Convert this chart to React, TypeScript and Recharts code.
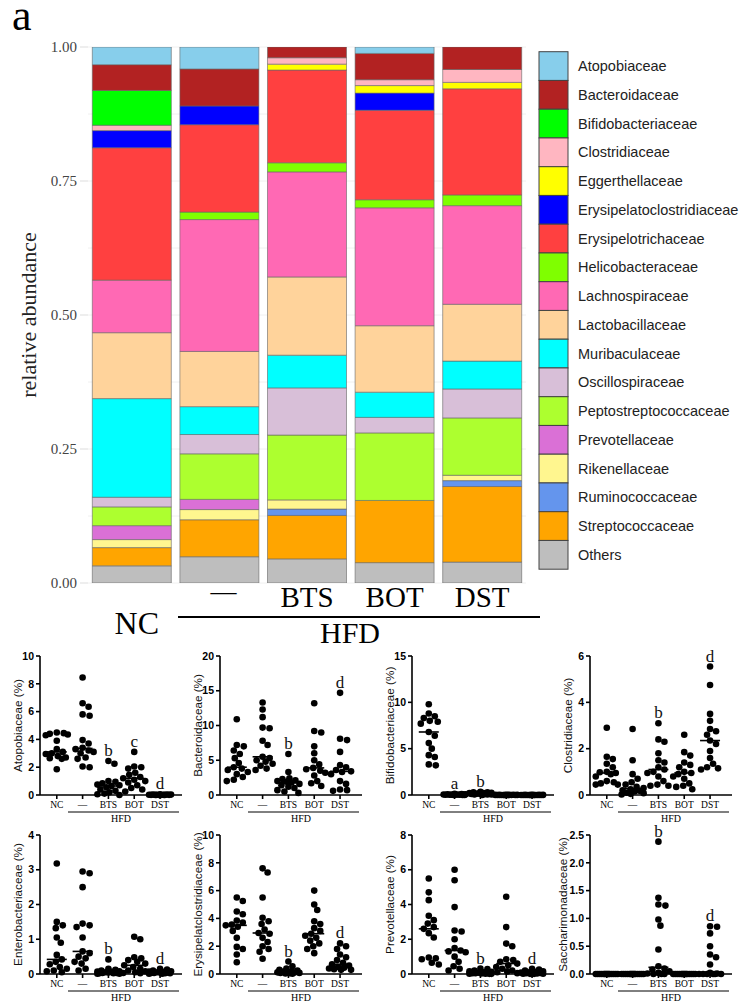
import React from "react";
import { BarChart, Bar, XAxis, YAxis, CartesianGrid, ScatterChart, Scatter, ReferenceDot } from "recharts";

const SERIF = "'Liberation Serif', 'Times New Roman', serif";
const SANS = "'Liberation Sans', Arial, sans-serif";

const groups = ["NC", "—", "BTS", "BOT", "DST"];

// relative abundance per family: NC, HFD, HFD+BTS, HFD+BOT, HFD+DST
const atopobiaceae = [0.033, 0.041, 0, 0.012, 0];
const bacteroidaceae = [0.048, 0.069, 0.02, 0.049, 0.042];
const bifidobacteriaceae = [0.065, 0, 0, 0, 0];
const clostridiaceae = [0.01, 0, 0.012, 0.011, 0.024];
const eggerthellaceae = [0, 0, 0.011, 0.014, 0.012];
const erysipelatoclostridiaceae = [0.032, 0.035, 0, 0.032, 0];
const erysipelotrichaceae = [0.247, 0.163, 0.173, 0.167, 0.198];
const helicobacteraceae = [0, 0.014, 0.017, 0.015, 0.02];
const lachnospiraceae = [0.098, 0.246, 0.196, 0.22, 0.184];
const lactobacillaceae = [0.123, 0.103, 0.146, 0.124, 0.106];
const muribaculaceae = [0.184, 0.052, 0.061, 0.047, 0.052];
const oscillospiraceae = [0.018, 0.036, 0.088, 0.029, 0.054];
const peptostreptococcaceae = [0.035, 0.085, 0.121, 0.126, 0.107];
const prevotellaceae = [0.026, 0.019, 0, 0, 0];
const rikenellaceae = [0.015, 0.019, 0.017, 0, 0.01];
const ruminococcaceae = [0, 0, 0.012, 0, 0.011];
const streptococcaceae = [0.034, 0.069, 0.081, 0.116, 0.141];
const others = [0.032, 0.049, 0.045, 0.038, 0.039];

const families = [
  { name: "Atopobiaceae", color: "#87CEEB", values: atopobiaceae },
  { name: "Bacteroidaceae", color: "#B22222", values: bacteroidaceae },
  { name: "Bifidobacteriaceae", color: "#00FF00", values: bifidobacteriaceae },
  { name: "Clostridiaceae", color: "#FFB6C1", values: clostridiaceae },
  { name: "Eggerthellaceae", color: "#FFFF00", values: eggerthellaceae },
  { name: "Erysipelatoclostridiaceae", color: "#0000FF", values: erysipelatoclostridiaceae },
  { name: "Erysipelotrichaceae", color: "#FF4040", values: erysipelotrichaceae },
  { name: "Helicobacteraceae", color: "#7FFF00", values: helicobacteraceae },
  { name: "Lachnospiraceae", color: "#FF69B4", values: lachnospiraceae },
  { name: "Lactobacillaceae", color: "#FFD39B", values: lactobacillaceae },
  { name: "Muribaculaceae", color: "#00FFFF", values: muribaculaceae },
  { name: "Oscillospiraceae", color: "#D8BFD8", values: oscillospiraceae },
  { name: "Peptostreptococcaceae", color: "#ADFF2F", values: peptostreptococcaceae },
  { name: "Prevotellaceae", color: "#DA70D6", values: prevotellaceae },
  { name: "Rikenellaceae", color: "#FFF68F", values: rikenellaceae },
  { name: "Ruminococcaceae", color: "#6495ED", values: ruminococcaceae },
  { name: "Streptococcaceae", color: "#FFA500", values: streptococcaceae },
  { name: "Others", color: "#BEBEBE", values: others },
];

const abundanceTicks = [0, 0.25, 0.5, 0.75, 1];

// per-mouse abundance (%), one list per group
const atopobiaceaePct = [
  [4.5, 4.45, 4.4, 4.35, 4.3, 3.9, 3.3, 3.1, 3.0, 2.95, 2.8, 2.7, 2.65, 2.6, 1.85],
  [8.45, 6.6, 6.35, 5.8, 5.7, 3.95, 3.7, 3.4, 3.3, 3.2, 3.1, 3.0, 2.7, 2.6, 2.05, 2.0],
  [2.45, 2.25, 1.0, 0.95, 0.85, 0.75, 0.7, 0.65, 0.55, 0.4, 0.3, 0.2, 0.1, 0.05, 0.0],
  [3.1, 2.05, 2.0, 1.9, 1.6, 1.45, 1.3, 1.2, 1.1, 1.0, 0.9, 0.7, 0.5, 0.4, 0.25],
  [0.05, 0.04, 0.03, 0.03, 0.02, 0.02, 0.02, 0.01, 0.01, 0.01, 0.01, 0, 0, 0, 0],
];
const bacteroidaceaePct = [
  [10.9, 7.2, 7.0, 6.4, 5.9, 5.3, 4.6, 4.0, 3.8, 3.6, 3.3, 3.0, 2.6, 2.2, 2.0],
  [13.3, 12.3, 11.2, 9.7, 9.6, 7.8, 7.2, 5.5, 5.3, 5.0, 4.8, 4.5, 4.2, 3.8, 3.6],
  [5.9, 3.3, 2.4, 2.3, 2.1, 2.0, 1.9, 1.8, 1.6, 1.4, 1.2, 1.0, 0.7, 0.5, 0.3],
  [13.2, 9.2, 9.0, 7.0, 6.0, 5.0, 4.4, 3.9, 3.7, 3.5, 3.2, 2.8, 2.0, 1.7, 1.3],
  [14.7, 8.1, 7.9, 6.2, 4.3, 4.0, 3.6, 3.4, 3.3, 3.0, 2.0, 1.6, 0.8, 0.7, 0.6],
];
const bifidobacteriaceaePct = [
  [9.8, 8.8, 8.5, 8.3, 8.0, 7.9, 7.7, 6.8, 6.4, 5.6, 5.0, 4.3, 4.1, 3.3, 3.2],
  [0.12, 0.1, 0.08, 0.07, 0.06, 0.05, 0.04, 0.04, 0.03, 0.03, 0.02, 0.02, 0.01, 0.01, 0.0],
  [0.35, 0.3, 0.3, 0.25, 0.2, 0.2, 0.15, 0.15, 0.1, 0.1, 0.1, 0.05, 0.05, 0.05, 0.0],
  [0.02, 0.02, 0.01, 0.01, 0.01, 0.01, 0, 0, 0, 0, 0, 0, 0, 0, 0],
  [0.02, 0.01, 0.01, 0.01, 0, 0, 0, 0, 0, 0, 0, 0, 0, 0, 0],
];
const clostridiaceaePct = [
  [2.9, 1.65, 1.55, 1.35, 1.2, 1.0, 0.98, 0.95, 0.9, 0.8, 0.6, 0.55, 0.5, 0.45, 0.45],
  [2.85, 1.5, 0.9, 0.7, 0.55, 0.45, 0.35, 0.3, 0.25, 0.2, 0.18, 0.15, 0.1, 0.08, 0.05, 0.02],
  [3.1, 2.4, 2.3, 1.8, 1.5, 1.4, 1.2, 1.1, 1.0, 0.95, 0.8, 0.6, 0.45, 0.4, 0.4],
  [2.6, 1.85, 1.7, 1.4, 1.3, 1.2, 1.0, 0.95, 0.9, 0.8, 0.7, 0.5, 0.4, 0.35, 0.25],
  [5.55, 4.75, 3.5, 3.2, 2.85, 2.75, 2.6, 2.35, 2.2, 1.9, 1.6, 1.35, 1.2, 1.15, 1.1],
];
const enterobacteriaceaePct = [
  [3.18, 1.5, 1.4, 1.32, 1.05, 0.9, 0.55, 0.42, 0.35, 0.28, 0.2, 0.15, 0.1, 0.08, 0.05],
  [2.95, 2.9, 2.5, 1.45, 1.4, 1.35, 1.05, 0.65, 0.6, 0.5, 0.45, 0.35, 0.3, 0.15, 0.1],
  [0.42, 0.15, 0.12, 0.1, 0.08, 0.07, 0.06, 0.05, 0.04, 0.03, 0.03, 0.02, 0.02, 0.01, 0.01],
  [1.07, 1.0, 0.48, 0.45, 0.4, 0.35, 0.3, 0.25, 0.2, 0.15, 0.1, 0.08, 0.05, 0.03, 0.02],
  [0.15, 0.13, 0.1, 0.08, 0.07, 0.06, 0.05, 0.04, 0.04, 0.03, 0.03, 0.02, 0.02, 0.01, 0.01],
];
const erysipelatoclostridiaceaePct = [
  [5.5, 5.25, 4.5, 4.3, 3.85, 3.7, 3.55, 3.5, 3.4, 3.1, 2.6, 1.95, 1.8, 1.4, 0.85],
  [7.6, 7.3, 5.5, 4.05, 3.8, 3.6, 3.2, 2.95, 2.9, 2.6, 2.3, 2.0, 1.8, 1.6, 1.1],
  [0.9, 0.55, 0.4, 0.3, 0.25, 0.2, 0.18, 0.15, 0.12, 0.1, 0.08, 0.07, 0.05, 0.04, 0.02],
  [6.0, 5.0, 4.6, 3.8, 3.6, 3.3, 3.1, 2.9, 2.75, 2.6, 2.4, 2.2, 2.0, 1.8, 1.5],
  [2.2, 2.0, 1.8, 1.4, 1.2, 1.0, 0.8, 0.7, 0.6, 0.5, 0.45, 0.4, 0.35, 0.3, 0.3],
];
const prevotellaceaePct = [
  [5.5, 4.7, 4.25, 3.35, 3.1, 2.9, 2.7, 2.6, 2.35, 2.1, 0.95, 0.9, 0.85, 0.65, 0.55],
  [6.0, 5.4, 3.85, 2.5, 2.45, 2.0, 1.5, 1.35, 1.3, 1.25, 1.0, 0.7, 0.45, 0.3, 0.2],
  [0.32, 0.28, 0.2, 0.15, 0.12, 0.1, 0.08, 0.06, 0.05, 0.04, 0.03, 0.02, 0.02, 0.01, 0.01],
  [4.45, 2.7, 1.75, 1.6, 0.85, 0.8, 0.7, 0.6, 0.5, 0.4, 0.3, 0.2, 0.15, 0.1, 0.05],
  [0.3, 0.25, 0.2, 0.15, 0.12, 0.1, 0.08, 0.06, 0.05, 0.04, 0.03, 0.02, 0.02, 0.01, 0.01],
];
const saccharimonadaceaePct = [
  [0, 0, 0, 0, 0, 0, 0, 0, 0, 0, 0, 0, 0, 0, 0],
  [0, 0, 0, 0, 0, 0, 0, 0, 0, 0, 0, 0, 0, 0, 0],
  [2.38, 1.37, 1.25, 1.23, 0.98, 0.87, 0.44, 0.14, 0.1, 0.08, 0.05, 0.02, 0.01, 0, 0, 0],
  [0, 0, 0, 0, 0, 0, 0, 0, 0, 0, 0, 0, 0, 0, 0],
  [0.86, 0.85, 0.73, 0.5, 0.35, 0.3, 0.17, 0.02, 0.01, 0, 0, 0, 0, 0, 0],
];

// significance letters per group
const atopobiaceaeLetters = ["", "", "b", "c", "d"];
const bacteroidaceaeLetters = ["", "", "b", "", "d"];
const bifidobacteriaceaeLetters = ["", "a", "b", "", ""];
const commonLetters = ["", "", "b", "", "d"];

type Panel = {
  title: string;
  values: number[][];
  letters: string[];
  yMax: number;
  ticks: number[];
  decimals: number;
  axisX: number;
  row: number;
};

const panels: Panel[] = [
  { title: "Atopobiaceae (%)", values: atopobiaceaePct, letters: atopobiaceaeLetters, yMax: 10, ticks: [0, 2, 4, 6, 8, 10], decimals: 0, axisX: 40, row: 0 },
  { title: "Bacteroidaceae (%)", values: bacteroidaceaePct, letters: bacteroidaceaeLetters, yMax: 20, ticks: [0, 5, 10, 15, 20], decimals: 0, axisX: 220, row: 0 },
  { title: "Bifidobacteriaceae (%)", values: bifidobacteriaceaePct, letters: bifidobacteriaceaeLetters, yMax: 15, ticks: [0, 5, 10, 15], decimals: 0, axisX: 412, row: 0 },
  { title: "Clostridiaceae (%)", values: clostridiaceaePct, letters: commonLetters, yMax: 6, ticks: [0, 2, 4, 6], decimals: 0, axisX: 590, row: 0 },
  { title: "Enterobacteriaceae (%)", values: enterobacteriaceaePct, letters: commonLetters, yMax: 4, ticks: [0, 1, 2, 3, 4], decimals: 0, axisX: 40, row: 1 },
  { title: "Erysipelatclostridiaceae (%)", values: erysipelatoclostridiaceaePct, letters: commonLetters, yMax: 10, ticks: [0, 2, 4, 6, 8, 10], decimals: 0, axisX: 220, row: 1 },
  { title: "Prevotellaceae (%)", values: prevotellaceaePct, letters: commonLetters, yMax: 8, ticks: [0, 2, 4, 6, 8], decimals: 0, axisX: 412, row: 1 },
  { title: "Saccharimonadaceae (%)", values: saccharimonadaceaePct, letters: commonLetters, yMax: 2.5, ticks: [0, 0.5, 1, 1.5, 2, 2.5], decimals: 1, axisX: 590, row: 1 },
];

// small panel geometry
const ROW_TOP = [656, 835];
const PLOT_H = 139;
const PLOT_W = 142;
const TOP_PAD = 24;
const X_DOMAIN: [number, number] = [-0.65, 4.85];
const PX_PER_X = PLOT_W / (X_DOMAIN[1] - X_DOMAIN[0]);
const DOT_R = 3.3;
const SWARM_HALF = 11;

// horizontal beeswarm offsets (px) so dots in a group don't pile on each other
function swarmOffsets(values: number[], pxPerUnit: number): number[] {
  const order = values.map((_, i) => i).sort((a, b) => values[b] - values[a]);
  const cands = [0];
  for (let d = 1; d <= SWARM_HALF; d++) cands.push(d, -d);
  const placed: { x: number; y: number }[] = [];
  const out = new Array(values.length).fill(0);
  for (const i of order) {
    const y = values[i] * pxPerUnit;
    let best = 0;
    let bestDist = -1;
    for (const c of cands) {
      let minD = Infinity;
      for (const p of placed) minD = Math.min(minD, Math.hypot(p.x - c, p.y - y));
      if (minD >= DOT_R * 1.9) {
        best = c;
        break;
      }
      if (minD > bestDist) {
        bestDist = minD;
        best = c;
      }
    }
    placed.push({ x: best, y });
    out[i] = best;
  }
  return out;
}

function median(v: number[]) {
  const s = [...v].sort((a, b) => a - b);
  const m = Math.floor(s.length / 2);
  return s.length % 2 ? s[m] : (s[m - 1] + s[m]) / 2;
}

const Dot = (p: any) => <circle cx={p.cx} cy={p.cy} r={DOT_R} fill="#000" />;
const MedianBar = (p: any) => (
  <line x1={p.cx - 10} x2={p.cx + 10} y1={p.cy} y2={p.cy} stroke="#000" strokeWidth={1.6} />
);

function DotPanel({ panel }: { panel: Panel }) {
  const top = ROW_TOP[panel.row];
  const pxPerUnit = PLOT_H / panel.yMax;
  const dots: { x: number; y: number }[] = [];
  const medians: { x: number; y: number }[] = [];
  const letters: { x: number; y: number; letter: string }[] = [];
  panel.values.forEach((vals, gi) => {
    const offs = swarmOffsets(vals, pxPerUnit);
    vals.forEach((v, k) => dots.push({ x: gi + offs[k] / PX_PER_X, y: v }));
    medians.push({ x: gi, y: median(vals) });
    if (panel.letters[gi]) {
      letters.push({ x: gi, y: Math.max(...vals) + 0.075 * panel.yMax, letter: panel.letters[gi] });
    }
  });
  const axisStyle = { stroke: "#000", strokeWidth: 1.6 };
  return (
    <div style={{ position: "absolute", left: panel.axisX - 45, top: top - TOP_PAD }}>
      <ScatterChart width={45 + PLOT_W + 6} height={TOP_PAD + PLOT_H + 30} margin={{ top: TOP_PAD, right: 6, bottom: 0, left: 0 }}>
        <XAxis
          type="number"
          dataKey="x"
          domain={X_DOMAIN}
          ticks={[0, 1, 2, 3, 4]}
          interval={0}
          tickFormatter={(v: number) => groups[v]}
          height={30}
          axisLine={axisStyle}
          tickLine={axisStyle}
          tickSize={4}
          tickMargin={2}
          tick={{ fontFamily: SERIF, fontSize: 9.5, fill: "#000" }}
        />
        <YAxis
          type="number"
          dataKey="y"
          domain={[0, panel.yMax]}
          ticks={panel.ticks}
          interval={0}
          tickFormatter={(v: number) => v.toFixed(panel.decimals)}
          width={45}
          axisLine={axisStyle}
          tickLine={axisStyle}
          tickSize={4}
          tickMargin={2}
          tick={{ fontFamily: SANS, fontSize: 10.5, fontWeight: 700, fill: "#000" }}
        />
        <Scatter data={dots} shape={Dot} isAnimationActive={false} />
        <Scatter data={medians} shape={MedianBar} isAnimationActive={false} />
        {letters.map((l) => (
          <ReferenceDot
            key={l.x}
            x={l.x}
            y={l.y}
            r={0}
            ifOverflow="visible"
            shape={(p: any) => (
              <text x={p.cx} y={p.cy} textAnchor="middle" dominantBaseline="central" fontFamily={SERIF} fontSize={17} fill="#111">
                {l.letter}
              </text>
            )}
          />
        ))}
      </ScatterChart>
    </div>
  );
}

const GroupTick = (props: any) => {
  const { x, y, payload } = props;
  const label = payload.value as string;
  if (label === "NC") {
    return (
      <text x={x + 5} y={y + 51} textAnchor="middle" fontFamily={SERIF} fontSize={32} fill="#000">
        NC
      </text>
    );
  }
  return (
    <text x={x + (label === "—" ? 4 : 0)} y={y + (label === "—" ? 17 : 24)} textAnchor="middle" fontFamily={SERIF} fontSize={label === "—" ? 26 : 29} fill="#000">
      {label}
    </text>
  );
};

export default function App() {
  const abundanceRows = groups.map((g, i) => {
    const row: Record<string, string | number> = { group: g };
    families.forEach((f) => (row[f.name] = f.values[i]));
    return row;
  });
  const legendTop = 51.7;
  const legendStep = 28.75;

  return (
    <div style={{ position: "absolute", left: 0, top: 0, width: 744, height: 1005, background: "#fff", overflow: "hidden" }}>
      <div style={{ position: "absolute", left: 0, top: 0 }}>
        <BarChart width={530} height={640} data={abundanceRows} margin={{ top: 47, right: 4, left: 48, bottom: 0 }} barCategoryGap={4.3}>
          <CartesianGrid vertical={false} horizontalValues={[0, 0.125, 0.25, 0.375, 0.5, 0.625, 0.75, 0.875, 1]} stroke="#F0F0F0" />
          <XAxis dataKey="group" axisLine={false} tickLine={false} tickSize={0} tickMargin={0} height={57} interval={0} tick={GroupTick} />
          <YAxis
            domain={[0, 1]}
            allowDataOverflow
            ticks={abundanceTicks}
            interval={0}
            tickFormatter={(v: number) => v.toFixed(2)}
            width={40}
            axisLine={false}
            tickLine={{ stroke: "#DDDDDD" }}
            tickSize={8}
            tickMargin={3}
            tick={{ fontFamily: SERIF, fontSize: 15, fill: "#444" }}
          />
          {[...families].reverse().map((f) => (
            <Bar key={f.name} dataKey={f.name} stackId="abundance" fill={f.color} stroke="#666" strokeWidth={0.6} isAnimationActive={false} />
          ))}
        </BarChart>
      </div>

      {panels.map((p) => (
        <DotPanel key={p.title} panel={p} />
      ))}

      <svg width={744} height={1005} style={{ position: "absolute", left: 0, top: 0, pointerEvents: "none" }}>
        <text x={12} y={30} fontFamily={SERIF} fontSize={44} fill="#000">
          a
        </text>
        <text transform="translate(28,315) rotate(-90)" textAnchor="middle" dominantBaseline="central" fontFamily={SERIF} fontSize={22} fill="#222">
          relative abundance
        </text>
        <line x1={178} x2={540} y1={617} y2={617} stroke="#000" strokeWidth={2.2} />
        <text x={350} y={643} textAnchor="middle" fontFamily={SERIF} fontSize={30} fill="#000">
          HFD
        </text>

        {families.map((f, i) => (
          <g key={f.name}>
            <rect x={539} y={legendTop + i * legendStep} width={29} height={legendStep} fill={f.color} stroke="#444" strokeWidth={1} />
            <text x={578} y={legendTop + i * legendStep + legendStep / 2} dominantBaseline="central" fontFamily={SANS} fontSize={14.5} fill="#222">
              {f.name}
            </text>
          </g>
        ))}

        {panels.map((p) => {
          const top = ROW_TOP[p.row];
          const zero = top + PLOT_H;
          const labelGap = p.decimals > 0 ? 28 : 23;
          return (
            <g key={p.title}>
              <text
                transform={`translate(${p.axisX - labelGap},${top + PLOT_H / 2}) rotate(-90)`}
                textAnchor="middle"
                dominantBaseline="central"
                fontFamily={SANS}
                fontSize={11.7}
                fill="#111"
              >
                {p.title}
              </text>
              <line x1={p.axisX + 28} x2={p.axisX + 139} y1={zero + 17} y2={zero + 17} stroke="#000" strokeWidth={1} />
              <text x={p.axisX + 81} y={zero + 27} textAnchor="middle" fontFamily={SERIF} fontSize={10} fill="#000">
                HFD
              </text>
            </g>
          );
        })}
      </svg>
    </div>
  );
}
